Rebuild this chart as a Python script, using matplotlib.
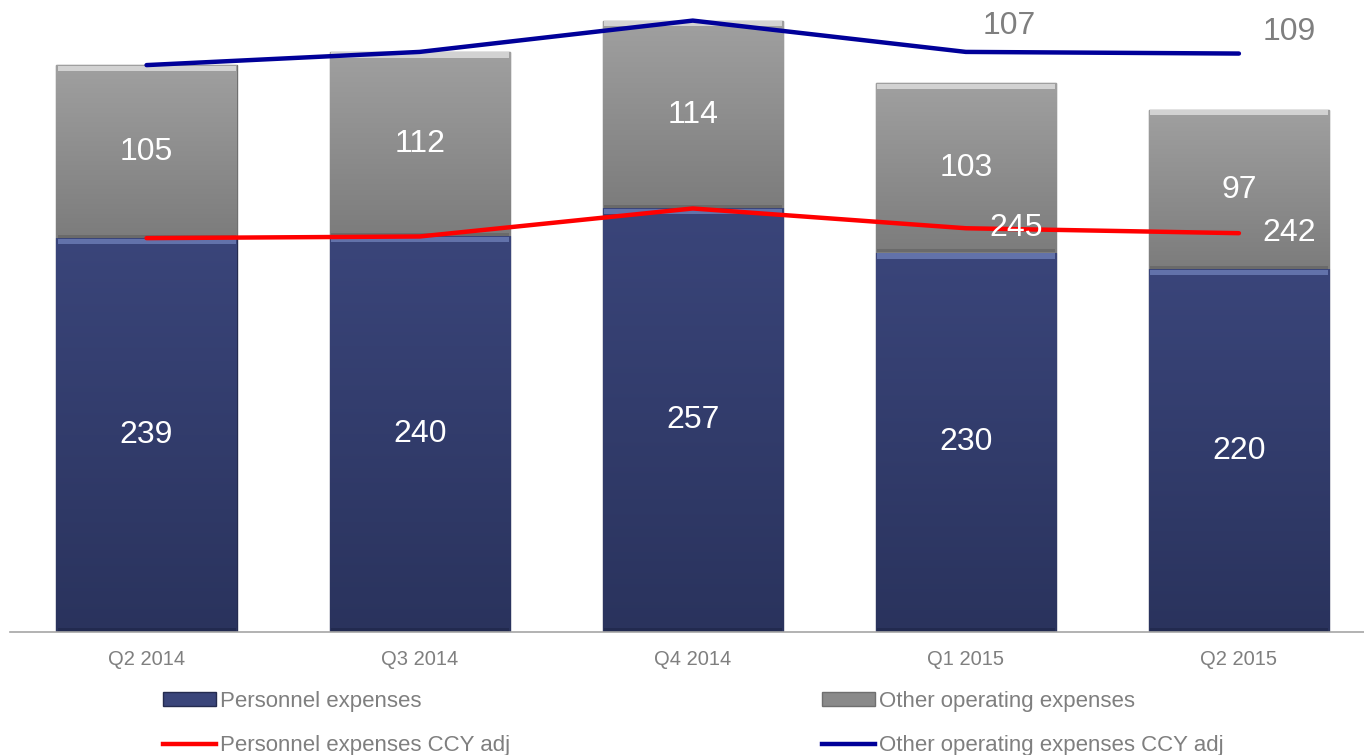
import numpy as np
import matplotlib.pyplot as plt
from matplotlib.colors import LinearSegmentedColormap
from matplotlib.patches import Patch
from matplotlib.lines import Line2D

plt.rcParams['font.family'] = ['Liberation Sans', 'DejaVu Sans']

# ---- data
quarters = ["Q2 2014", "Q3 2014", "Q4 2014", "Q1 2015", "Q2 2015"]
personnel = [239, 240, 257, 230, 220]
other = [105, 112, 114, 103, 97]
personnel_adj = [239, 240, 257, 245, 242]
other_adj = [105, 112, 114, 107, 109]

GREY_TXT = "#7f7f7f"
NAVY_TOP, NAVY_BOT = "#3a457a", "#2a335d"
GREY_TOP, GREY_BOT = "#a0a0a0", "#7c7c7c"

fig = plt.figure(figsize=(13.64, 7.55), dpi=100)
ax = fig.add_axes([10 / 1364, 123 / 755, 1354 / 1364, 632 / 755])

x = np.arange(len(quarters))
width = 0.66


def gradient_bars(bars, top, bot, light, dark):
    cmap = LinearSegmentedColormap.from_list("g", [bot, top])
    grad = np.linspace(0, 1, 256).reshape(-1, 1)
    for b in bars:
        x0, y0 = b.get_x(), b.get_y()
        w, h = b.get_width(), b.get_height()
        im = ax.imshow(grad, cmap=cmap, origin="lower", aspect="auto",
                       extent=[x0, x0 + w, y0, y0 + h], zorder=2)
        im.set_clip_path(b)
        # bevel: light top edge, dark bottom edge
        ax.fill_between([x0 + 0.004, x0 + w - 0.004], y0 + h - 3.4, y0 + h - 0.3,
                        color=light, lw=0, zorder=2.5)
        ax.fill_between([x0 + 0.004, x0 + w - 0.004], y0 + 0.3, y0 + 2.2,
                        color=dark, lw=0, alpha=0.6, zorder=2.5)


bars_p = ax.bar(x, personnel, width, color=NAVY_TOP, edgecolor="#242b4f",
                lw=1, zorder=1)
bars_o = ax.bar(x, other, width, bottom=personnel, color=GREY_TOP,
                edgecolor="#6f6f6f", lw=1, zorder=1)
gradient_bars(bars_p, NAVY_TOP, NAVY_BOT, "#6272aa", "#1e2546")
gradient_bars(bars_o, GREY_TOP, GREY_BOT, "#d2d2d2", "#5e5e5e")

# ---- lines
total_adj = [p + o for p, o in zip(personnel_adj, other_adj)]
ax.plot(x, personnel_adj, color="#ff0000", lw=3.2, solid_capstyle="round", zorder=4)
ax.plot(x, total_adj, color="#000099", lw=3.2, solid_capstyle="round", zorder=4)

# ---- value labels inside bars
for i in range(len(quarters)):
    ax.text(x[i], personnel[i] / 2, str(personnel[i]), ha="center", va="center",
            color="white", fontsize=23, zorder=5)
    ax.text(x[i], personnel[i] + other[i] / 2, str(other[i]), ha="center",
            va="center", color="white", fontsize=23, zorder=5)

# ---- labels for CCY adjusted quarters
ax.text(x[3] + 0.088, personnel_adj[3], str(personnel_adj[3]), ha="left",
        va="center", color="white", fontsize=23, zorder=5)
ax.text(x[4] + 0.085, personnel_adj[4], str(personnel_adj[4]), ha="left",
        va="center", color="white", fontsize=23, zorder=5)
ax.text(x[3] + 0.062, total_adj[3] + 16, str(other_adj[3]), ha="left",
        va="center", color=GREY_TXT, fontsize=23, zorder=5)
ax.text(x[4] + 0.088, total_adj[4] + 13, str(other_adj[4]), ha="left",
        va="center", color=GREY_TXT, fontsize=23, zorder=5)

ax.set_xlim(-0.5, 4.458)
ax.set_ylim(0, 383.5)
ax.set_xticks(x)
ax.set_xticklabels(quarters, color=GREY_TXT, fontsize=14.5)
ax.tick_params(axis="x", length=0, pad=13)
ax.set_yticks([])
for s in ["top", "right", "left"]:
    ax.spines[s].set_visible(False)
ax.spines["bottom"].set_color("#a6a6a6")
ax.spines["bottom"].set_linewidth(1.2)

# ---- legend (two columns placed separately)
col1 = [
    Patch(facecolor=NAVY_TOP, edgecolor="#242b4f", label="Personnel expenses"),
    Line2D([0], [0], color="#ff0000", lw=3.2, label="Personnel expenses CCY adj"),
]
col2 = [
    Patch(facecolor="#8a8a8a", edgecolor="#6f6f6f", label="Other operating expenses"),
    Line2D([0], [0], color="#000099", lw=3.2, label="Other operating expenses CCY adj"),
]
for hs, x_px in [(col1, 163), (col2, 822)]:
    leg = fig.legend(handles=hs, loc="upper left",
                     bbox_to_anchor=(x_px / 1364, 1 - 691 / 755), frameon=False,
                     fontsize=16, handlelength=2.4, handleheight=0.55,
                     handletextpad=0.18, labelspacing=1.05, borderpad=0,
                     borderaxespad=0)
    for t in leg.get_texts():
        t.set_color(GREY_TXT)

fig.savefig("out.png", dpi=100)
